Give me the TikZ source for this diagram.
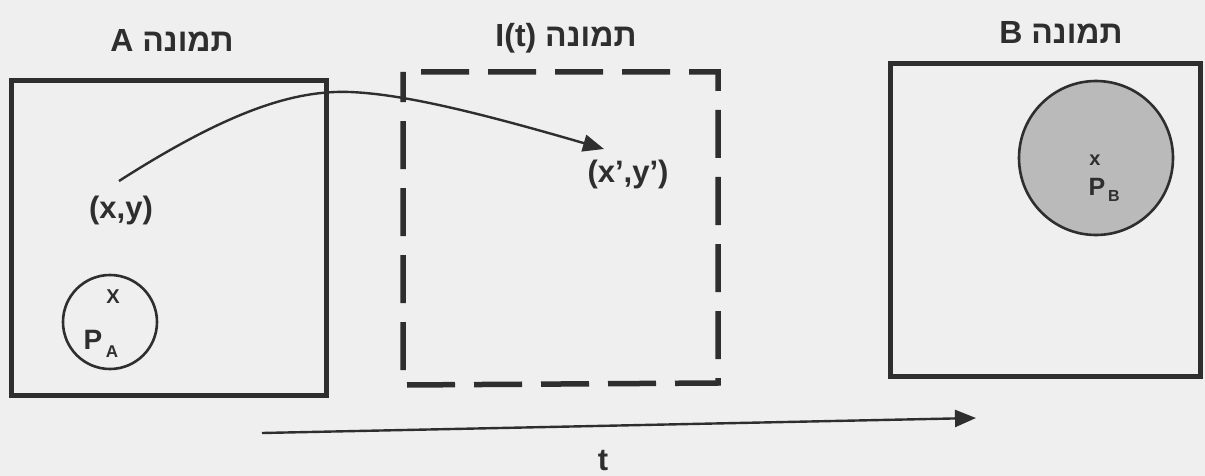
\documentclass[tikz,border=0pt]{standalone}
\usepackage{fontspec}
\setmainfont{Liberation Sans}
\newfontfamily\hebfont[Script=Hebrew]{Liberation Sans}
\newfontfamily\latfont{Liberation Sans}
\TeXXeTstate=1
\usetikzlibrary{arrows.meta}
\definecolor{ink}{HTML}{2E2E2E}
\definecolor{paper}{HTML}{EFEFEF}
\definecolor{disc}{HTML}{BABABA}
\tikzset{
  frame/.style={draw=ink, line width=5pt},
  dashframe/.style={draw=ink, line width=5.5pt, dash pattern=on 48pt off 19pt, dash phase=-18pt},
  title/.style={text=ink, font=\hebfont\bfseries\fontsize{32}{32}\selectfont, anchor=base, inner sep=0pt},
  lab/.style={text=ink, font=\bfseries\fontsize{31}{31}\selectfont, inner sep=0pt},
  conn/.style={draw=ink, line width=2.4pt, -{Triangle[length=21pt,width=17pt]}},
  ring/.style={draw=ink, line width=2.6pt},
}
\begin{document}
\begin{tikzpicture}[x=1pt,y=-1pt]
\fill[paper] (0,0) rectangle (1205,476);
\useasboundingbox (0,0) rectangle (1205,476);
% frames
\draw[frame] (11,81) rectangle (326,395);
\draw[dashframe] (403,72) -- (718,72) -- (718,383) -- (403,385) -- cycle;
\draw[frame] (890,64) rectangle (1200,376);
% titles
\node[title] (tA) at (172,52) {\beginR תמונה \beginL{\latfont\bfseries A}\endL\endR};
\node[title] (tI) at (566,47) {\beginR תמונה \beginL{\latfont\bfseries I(t)}\endL\endR};
\node[title] (tB) at (1061,44) {\beginR תמונה \beginL{\latfont\bfseries B}\endL\endR};
% circle A
\node[ring, circle, minimum size=94pt, inner sep=0pt] (cA) at (110,322) {};
\node[text=ink, font=\bfseries\fontsize{20}{20}\selectfont, inner sep=0pt] (xA) at (113,297) {X};
\node[text=ink, font=\bfseries\fontsize{28}{28}\selectfont, inner sep=0pt] (pA) at (93,340) {P};
\node[text=ink, font=\bfseries\fontsize{17}{17}\selectfont, inner sep=0pt] (sA) at (112,352) {A};
% circle B
\node[ring, circle, fill=disc, minimum size=154pt, inner sep=0pt] (cB) at (1096,158) {};
\node[text=ink, font=\bfseries\fontsize{20}{20}\selectfont, inner sep=0pt] (xB) at (1095,160) {x};
\node[text=ink, font=\bfseries\fontsize{25}{25}\selectfont, inner sep=0pt] (pB) at (1097,187) {P};
\node[text=ink, font=\bfseries\fontsize{16}{16}\selectfont, inner sep=0pt] (sB) at (1114,196) {B};
% points
\node[lab] (xy) at (121,210) {(x,y)};
\node[lab] (xyp) at (628,174) {(x’,y’)};
\coordinate (s) at (119,181);
\coordinate (m) at (350,92);
\coordinate (e) at (604,149);
\draw[conn] (s) .. controls (230,110) and (295,90) .. (m) .. controls (400,94) and (470,110) .. (e);
% time axis
\coordinate (t0) at (262,433);
\coordinate (t1) at (976,418);
\draw[conn] (t0) -- (t1);
\node[lab] (t) at (603,461) {t};
\end{tikzpicture}
\end{document}
